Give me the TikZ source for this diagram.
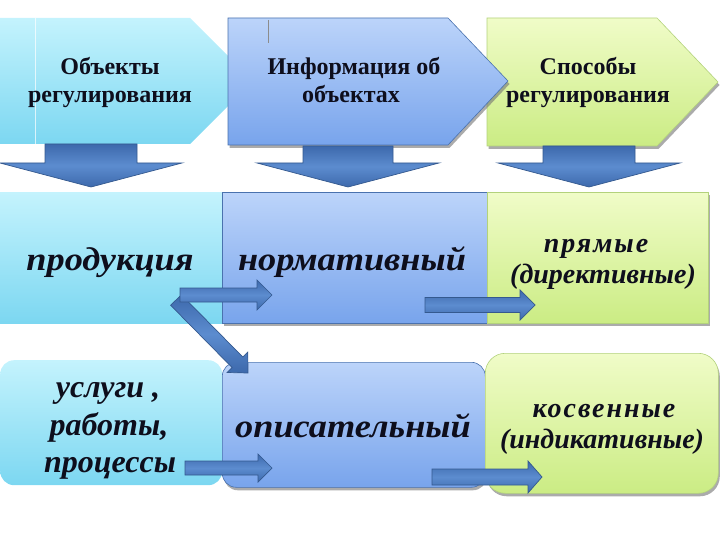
\documentclass[tikz,border=0pt]{standalone}
\usepackage{fontspec}
\setmainfont{Liberation Serif}
\newfontfamily\widefont[FakeStretch=1.1]{Liberation Serif}
\newfontfamily\spacedfont[LetterSpace=7]{Liberation Serif}
\usetikzlibrary{calc,shadows}
\definecolor{cyT}{HTML}{C4F3FD}
\definecolor{cyB}{HTML}{7CD7F1}
\definecolor{blT}{HTML}{BCD4FA}
\definecolor{blB}{HTML}{78A4EC}
\definecolor{blD}{HTML}{4A72AE}
\definecolor{grT}{HTML}{F0FCC8}
\definecolor{grB}{HTML}{CBEC84}
\definecolor{grD}{HTML}{B3D27C}
\definecolor{arM}{HTML}{5C8CCF}
\definecolor{arE}{HTML}{3D69AC}
\definecolor{arD}{HTML}{34598F}
\definecolor{ink}{HTML}{0E0E1C}
\newcommand\blockarrow[5]{%
  \coordinate (hb) at ($(#2)!#5!(#1)$);
  \draw[barrow] ($(#1)!#3!90:(#2)$) -- ($(hb)!#3!90:(#2)$) -- ($(hb)!#4!90:(#2)$)
    -- (#2) -- ($(hb)!#4!-90:(#2)$) -- ($(hb)!#3!-90:(#2)$) -- ($(#1)!#3!-90:(#2)$) -- cycle;}
\begin{document}
\begin{tikzpicture}[x=1pt,y=-1pt,
  cyfill/.style={top color=cyT, bottom color=cyB, draw=none},
  blfill/.style={top color=blT, bottom color=blB, draw=blD, line width=0.6pt,
    drop shadow={shadow xshift=1.5pt, shadow yshift=-3pt, fill=black!55, opacity=0.6}},
  grfill/.style={top color=grT, bottom color=grB, draw=grD, line width=0.6pt,
    drop shadow={shadow xshift=1.5pt, shadow yshift=-3pt, fill=black!55, opacity=0.6}},
  barrow/.style={top color=arE, bottom color=arE, middle color=arM, draw=arD, line width=0.7pt},
  lab/.style={inner sep=0pt, anchor=base, text=ink, font=\fontsize{24}{28}\selectfont\bfseries},
  big/.style={inner sep=0pt, anchor=base, text=ink, font=\widefont\fontsize{33}{38}\selectfont\bfseries\itshape},
  lst/.style={inner sep=0pt, anchor=base, text=ink, font=\fontsize{32}{37}\selectfont\bfseries\itshape},
  mid/.style={inner sep=0pt, anchor=base, text=ink, font=\fontsize{28}{31}\selectfont\bfseries\itshape},
  midsp/.style={inner sep=0pt, anchor=base, text=ink, font=\spacedfont\fontsize{28}{31}\selectfont\bfseries\itshape},
  box/.style={inner sep=0pt, anchor=north west},
]
\useasboundingbox (0,0) rectangle (720,540);

% ---- top row chevrons
\path[cyfill] (0,18) -- (190,18) -- (253,81) -- (190,144) -- (0,144) -- cycle;
\draw[white, opacity=0.7, line width=0.8pt] (35,18) -- (35,144);
\path[grfill] (487,18) -- (657,18) -- (718,82) -- (657,146) -- (487,146) -- cycle;
\path[blfill] (228,18) -- (448,18) -- (508,81) -- (448,145) -- (228,145) -- cycle;
\draw[black!45, line width=0.6pt] (268,20) -- (268,43);

\node[lab] (o1a) at (110,75) {Объекты};
\node[lab] (o1b) at (110,103) {регулирования};
\node[lab] (o2a) at (354,75) {Информация об};
\node[lab] (o2b) at (351,103) {объектах};
\node[lab] (o3a) at (588,75) {Способы};
\node[lab] (o3b) at (588,103) {регулирования};

% ---- middle row
\node[box, cyfill, minimum width=222pt, minimum height=131pt] (bprod) at (0,192) {};
\node[box, blfill, minimum width=265pt, minimum height=131pt] (bnorm) at (222,192) {};
\node[box, grfill, minimum width=221pt, minimum height=131pt] (bpr) at (487,192) {};

% ---- bottom row
\node[box, cyfill, rounded corners=14pt, minimum width=222pt, minimum height=125pt] (bus) at (0,360) {};
\node[box, blfill, rounded corners=14pt, minimum width=263pt, minimum height=125pt] (bop) at (222,362) {};
\node[box, grfill, rounded corners=20pt, minimum width=233pt, minimum height=140pt] (bkos) at (485,353) {};

% ---- down arrows
\coordinate (d1s) at (91,144);  \coordinate (d1e) at (91,187);
\coordinate (d2s) at (348,146); \coordinate (d2e) at (348,187);
\coordinate (d3s) at (589,146); \coordinate (d3e) at (589,187);
\blockarrow{d1s}{d1e}{46pt}{91pt}{24pt}
\blockarrow{d2s}{d2e}{45pt}{91pt}{24pt}
\blockarrow{d3s}{d3e}{46pt}{91pt}{24pt}

% ---- texts
\node[big] (prod) at (110,270) {продукция};
\node[big] (norm) at (352,270) {нормативный};
\node[midsp] (pr1) at (596,252) {прямые};
\node[mid] (pr2) at (603,283) {(директивные)};
\node[lst] (us1) at (108,397) {услуги ,};
\node[lst] (us2) at (109,435) {работы,};
\node[lst] (us3) at (110,472) {процессы};
\node[big] (opis) at (353,437) {описательный};
\node[midsp] (kos1) at (604,417) {косвенные};
\node[mid] (kos2) at (602,448) {(индикативные)};

% ---- connectors
\coordinate (h1s) at (180,295); \coordinate (h1e) at (272,295);
\coordinate (h2s) at (425,305); \coordinate (h2e) at (535,305);
\coordinate (dgs) at (176,300); \coordinate (dge) at (248,373);
\coordinate (h3s) at (185,468); \coordinate (h3e) at (272,468);
\coordinate (h4s) at (432,477); \coordinate (h4e) at (542,477);
\blockarrow{dgs}{dge}{7.5pt}{14.5pt}{15pt}
\blockarrow{h1s}{h1e}{7pt}{15pt}{15pt}
\blockarrow{h2s}{h2e}{7.5pt}{15pt}{15pt}
\blockarrow{h3s}{h3e}{7pt}{14pt}{14pt}
\blockarrow{h4s}{h4e}{8pt}{16pt}{14pt}
\end{tikzpicture}
\end{document}
